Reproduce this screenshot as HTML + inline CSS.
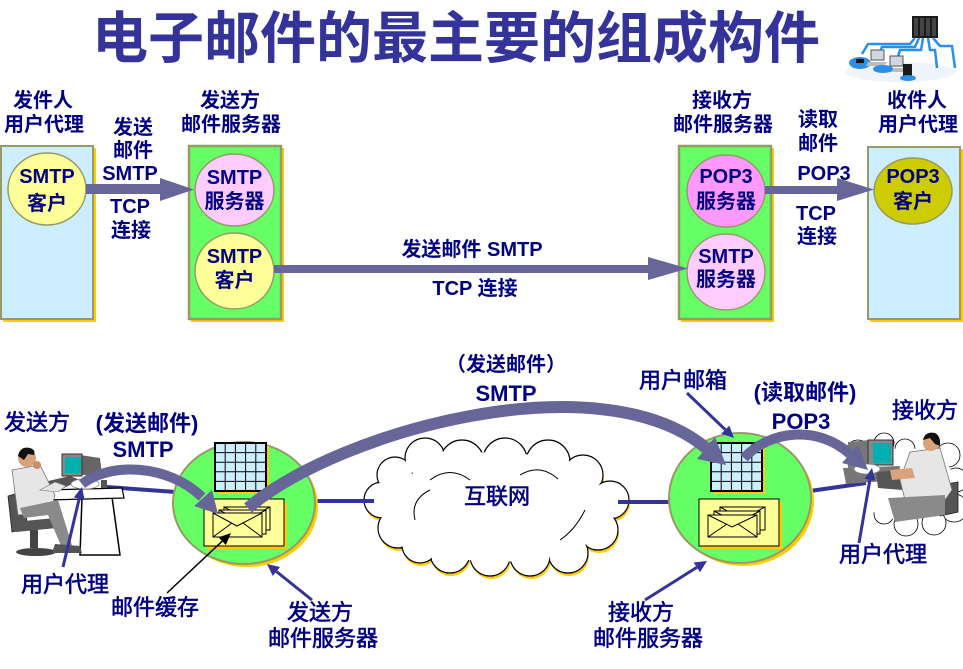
<!DOCTYPE html>
<html><head><meta charset="utf-8">
<style>
html,body{margin:0;padding:0;background:#fff;}
svg{display:block;}
text{font-family:"Liberation Sans","Noto Sans CJK SC",sans-serif;fill:#000080;text-anchor:middle;}
.b{font-weight:bold;}
.l{font-size:20px;font-weight:bold;}
.m{font-size:22px;}
.s{stroke:#000080;stroke-width:0.6px;}
</style></head>
<body>
<svg width="963" height="669" viewBox="0 0 963 669" xmlns="http://www.w3.org/2000/svg">
<!-- Title -->
<text x="456" y="58" font-size="56" font-weight="bold" style="fill:#333399">电子邮件的最主要的组成构件</text>

<!-- top-right network icon -->
<g>
  <ellipse cx="900" cy="72" rx="55" ry="10" fill="#eef4fa"/>
  <rect x="912" y="16" width="26" height="22" fill="#1a1a1a"/>
  <rect x="914" y="18" width="4" height="18" fill="#444"/>
  <rect x="920" y="18" width="4" height="18" fill="#444"/>
  <rect x="926" y="18" width="4" height="18" fill="#444"/>
  <rect x="932" y="18" width="4" height="18" fill="#444"/>
  <g stroke="#2a8fe6" stroke-width="2.5" fill="none">
    <polyline points="915,38 910,44 868,44 862,54"/>
    <polyline points="919,38 915,47 882,47 878,56"/>
    <polyline points="923,38 921,50 900,50 897,60"/>
    <polyline points="928,38 930,50 935,50 937,68"/>
    <polyline points="933,38 940,46 952,46 955,68"/>
  </g>
  <ellipse cx="860" cy="63" rx="11" ry="6" fill="#2a8fe6"/>
  <rect x="856" y="59" width="8" height="4" fill="#111"/>
  <rect x="871" y="50" width="13" height="10" fill="#cfd8e0" stroke="#555" stroke-width="1"/>
  <polygon points="868,62 887,62 884,66 866,66" fill="#bbb"/>
  <rect x="890" y="56" width="13" height="10" fill="#cfd8e0" stroke="#555" stroke-width="1"/>
  <polygon points="887,68 906,68 903,72 885,72" fill="#bbb"/>
  <ellipse cx="883" cy="69" rx="10" ry="4" fill="#2a8fe6"/>
  <rect x="903" y="64" width="9" height="16" fill="#1a1a1a"/>
  <ellipse cx="908" cy="78" rx="8" ry="3" fill="#2a8fe6"/>
</g>

<!-- ================= TOP SECTION ================= -->
<rect x="3" y="148" width="93" height="174" fill="#FFCC00"/>
<rect x="1" y="146" width="92" height="173" fill="#CCEEFF" stroke="#999966" stroke-width="2"/>
<rect x="191" y="148" width="93" height="174" fill="#FFCC00"/>
<rect x="189" y="146" width="92" height="173" fill="#66FF66" stroke="#999966" stroke-width="2.5"/>
<rect x="681" y="148" width="93" height="174" fill="#FFCC00"/>
<rect x="679" y="146" width="92" height="173" fill="#66FF66" stroke="#999966" stroke-width="2.5"/>
<rect x="870" y="149" width="93" height="173" fill="#FFCC00"/>
<rect x="868" y="147" width="92" height="172" fill="#CCEEFF" stroke="#999966" stroke-width="2"/>

<ellipse cx="47" cy="189" rx="39" ry="36" fill="#FFFF99" stroke="#999966" stroke-width="1.5"/>
<ellipse cx="234.5" cy="190" rx="39.5" ry="36" fill="#FFCCFF" stroke="#999966" stroke-width="1.5"/>
<ellipse cx="234.5" cy="271" rx="39.5" ry="38" fill="#FFFF99" stroke="#999966" stroke-width="1.5"/>
<ellipse cx="726" cy="191" rx="39" ry="36" fill="#FF99FF" stroke="#999966" stroke-width="1.5"/>
<ellipse cx="726" cy="272" rx="39" ry="38" fill="#FFCCFF" stroke="#999966" stroke-width="1.5"/>
<ellipse cx="913" cy="191" rx="39" ry="33" fill="#CCCC00" stroke="#999966" stroke-width="1.5"/>

<rect x="86" y="184" width="78" height="10" fill="#666699"/>
<polygon points="160,178 194,189.5 160,201" fill="#666699"/>
<rect x="274" y="265" width="378" height="8" fill="#666699"/>
<polygon points="648,257 688,268.5 648,280" fill="#666699"/>
<rect x="765" y="186" width="76" height="8" fill="#666699"/>
<polygon points="837,178 874,189.5 837,201" fill="#666699"/>

<text class="l" x="43" y="107">发件人</text>
<text class="l" x="44" y="131">用户代理</text>
<text class="l" x="230" y="107">发送方</text>
<text class="l" x="231" y="131">邮件服务器</text>
<text class="l" x="722" y="107">接收方</text>
<text class="l" x="723" y="131">邮件服务器</text>
<text class="l" x="917" y="107">收件人</text>
<text class="l" x="918" y="131">用户代理</text>

<text class="l" x="133" y="134">发送</text>
<text class="l" x="133" y="157">邮件</text>
<text class="l" x="130" y="180">SMTP</text>
<text class="l" x="130" y="213">TCP</text>
<text class="l" x="131" y="237">连接</text>

<text class="l" x="818" y="126">读取</text>
<text class="l" x="818" y="150">邮件</text>
<text class="l" x="824" y="180">POP3</text>
<text class="l" x="816" y="220">TCP</text>
<text class="l" x="817" y="243">连接</text>

<text class="l" x="47" y="183">SMTP</text>
<text class="l" x="47" y="210">客户</text>
<text class="l" x="234.5" y="184">SMTP</text>
<text class="l" x="234.5" y="208">服务器</text>
<text class="l" x="234.5" y="263">SMTP</text>
<text class="l" x="234.5" y="287">客户</text>
<text class="l" x="726" y="183">POP3</text>
<text class="l" x="726" y="208">服务器</text>
<text class="l" x="726" y="263">SMTP</text>
<text class="l" x="726" y="286">服务器</text>
<text class="l" x="913" y="183">POP3</text>
<text class="l" x="913" y="208">客户</text>

<text class="l" x="472" y="256">发送邮件 SMTP</text>
<text class="l" x="475" y="295">TCP 连接</text>

<!-- ================= BOTTOM SECTION ================= -->
<g fill="#FFCC00">
  <circle cx="383" cy="503" r="18"/><circle cx="396" cy="478" r="18"/><circle cx="399" cy="531" r="20"/>
  <circle cx="426" cy="461" r="20"/><circle cx="463" cy="465" r="22"/><circle cx="506" cy="463" r="22"/>
  <circle cx="549" cy="465" r="22"/><circle cx="584" cy="478" r="20"/><circle cx="611" cy="503" r="19"/>
  <circle cx="599" cy="533" r="20"/><circle cx="569" cy="556" r="20"/><circle cx="531" cy="559" r="20"/>
  <circle cx="491" cy="559" r="20"/><circle cx="451" cy="556" r="20"/><circle cx="421" cy="548" r="18"/>
</g>
<g fill="#fff" stroke="#000" stroke-width="1.2">
  <circle cx="382" cy="500" r="18"/><circle cx="395" cy="475" r="18"/><circle cx="398" cy="528" r="20"/>
  <circle cx="425" cy="458" r="20"/><circle cx="462" cy="462" r="22"/><circle cx="505" cy="460" r="22"/>
  <circle cx="548" cy="462" r="22"/><circle cx="583" cy="475" r="20"/><circle cx="610" cy="500" r="19"/>
  <circle cx="598" cy="530" r="20"/><circle cx="568" cy="553" r="20"/><circle cx="530" cy="556" r="20"/>
  <circle cx="490" cy="556" r="20"/><circle cx="450" cy="553" r="20"/><circle cx="420" cy="545" r="18"/>
</g>
<g fill="#fff">
  <circle cx="382" cy="500" r="17"/><circle cx="395" cy="475" r="17"/><circle cx="398" cy="528" r="19"/>
  <circle cx="425" cy="458" r="19"/><circle cx="462" cy="462" r="21"/><circle cx="505" cy="460" r="21"/>
  <circle cx="548" cy="462" r="21"/><circle cx="583" cy="475" r="19"/><circle cx="610" cy="500" r="18"/>
  <circle cx="598" cy="530" r="19"/><circle cx="568" cy="553" r="19"/><circle cx="530" cy="556" r="19"/>
  <circle cx="490" cy="556" r="19"/><circle cx="450" cy="553" r="19"/><circle cx="420" cy="545" r="17"/>
  <ellipse cx="496" cy="507" rx="105" ry="55"/>
</g>
<g fill="none" stroke="#000" stroke-width="1">
  <path d="M430 480 q20 -15 40 0"/><path d="M520 475 q20 -12 38 4"/><path d="M560 540 q15 -10 25 -30"/>
  <path d="M415 520 q-5 -20 15 -30"/>
</g>
<text class="m s" x="497" y="504">互联网</text>

<g fill="#fff" stroke="#000" stroke-width="0.8">
  <circle cx="858" cy="452" r="12"/><circle cx="884" cy="443" r="10"/><circle cx="905" cy="449" r="10"/>
  <circle cx="948" cy="455" r="12"/><circle cx="956" cy="480" r="12"/><circle cx="954" cy="508" r="14"/>
  <circle cx="934" cy="523" r="12"/><circle cx="906" cy="524" r="12"/><circle cx="884" cy="514" r="10"/>
</g>
<ellipse cx="905" cy="484" rx="50" ry="36" fill="#fff"/>

<g stroke="#333399" stroke-width="4">
  <line x1="107" y1="487" x2="176" y2="492"/>
  <line x1="314" y1="501" x2="374" y2="501"/>
  <line x1="618" y1="502" x2="671" y2="502"/>
  <line x1="810" y1="491" x2="866" y2="483"/>
</g>

<ellipse cx="247" cy="506" rx="71" ry="61" fill="#FFCC00"/>
<ellipse cx="244" cy="503" rx="71" ry="61" fill="#66FF66" stroke="#999966" stroke-width="2"/>
<ellipse cx="743" cy="501" rx="71" ry="65" fill="#FFCC00"/>
<ellipse cx="740" cy="498" rx="71" ry="65" fill="#66FF66" stroke="#999966" stroke-width="2"/>

<rect x="218" y="446" width="51" height="48" fill="#FFCC00"/>
<rect x="215" y="443" width="51" height="48" fill="#CCEEFF" stroke="#000" stroke-width="2"/>
<g stroke="#000" stroke-width="1">
  <line x1="225.2" y1="443" x2="225.2" y2="491"/><line x1="235.4" y1="443" x2="235.4" y2="491"/>
  <line x1="245.6" y1="443" x2="245.6" y2="491"/><line x1="255.8" y1="443" x2="255.8" y2="491"/>
  <line x1="215" y1="452.6" x2="266" y2="452.6"/><line x1="215" y1="462.2" x2="266" y2="462.2"/>
  <line x1="215" y1="471.8" x2="266" y2="471.8"/><line x1="215" y1="481.4" x2="266" y2="481.4"/>
</g>
<rect x="714" y="446" width="51" height="48" fill="#FFCC00"/>
<rect x="711" y="443" width="51" height="48" fill="#CCEEFF" stroke="#000" stroke-width="2"/>
<g stroke="#000" stroke-width="1">
  <line x1="721.2" y1="443" x2="721.2" y2="491"/><line x1="731.4" y1="443" x2="731.4" y2="491"/>
  <line x1="741.6" y1="443" x2="741.6" y2="491"/><line x1="751.8" y1="443" x2="751.8" y2="491"/>
  <line x1="711" y1="452.6" x2="762" y2="452.6"/><line x1="711" y1="462.2" x2="762" y2="462.2"/>
  <line x1="711" y1="471.8" x2="762" y2="471.8"/><line x1="711" y1="481.4" x2="762" y2="481.4"/>
</g>

<rect x="207" y="502" width="80" height="47" fill="#FFCC00"/>
<rect x="204" y="499" width="80" height="47" fill="#FFFF99" stroke="#000" stroke-width="1"/>
<g fill="#FFFF99" stroke="#000" stroke-width="1">
  <rect x="224" y="507" width="46" height="23"/><path d="M224 507 L247 519 L270 507" fill="none"/>
  <rect x="219" y="510" width="47" height="24"/><path d="M219 510 L242 522 L266 510" fill="none"/>
  <rect x="213" y="513" width="49" height="24"/><path d="M213 513 L237 526 L262 513 M213 537 L232 523 M262 537 L243 523" fill="none"/>
</g>
<rect x="702" y="502" width="80" height="47" fill="#FFCC00"/>
<rect x="699" y="499" width="80" height="47" fill="#FFFF99" stroke="#000" stroke-width="1"/>
<g fill="#FFFF99" stroke="#000" stroke-width="1">
  <rect x="720" y="507" width="45" height="23"/><path d="M720 507 L742 519 L765 507" fill="none"/>
  <rect x="714" y="511" width="46" height="23"/><path d="M714 511 L737 523 L760 511" fill="none"/>
  <rect x="708" y="515" width="49" height="22"/><path d="M708 515 L732 527 L757 515 M708 537 L727 524 M757 537 L738 524" fill="none"/>
</g>

<!-- left person & desk -->
<g>
  <polygon points="82,497 112,497 120,555 80,555" fill="#fff" stroke="#000" stroke-width="1.5"/>
  <polygon points="45,490 122,488 124,498 48,500" fill="#fff" stroke="#000" stroke-width="1.2"/>
  <polygon points="80,455 100,458 102,475 80,475" fill="#666"/>
  <rect x="62" y="454" width="20" height="22" fill="#888" stroke="#333" stroke-width="1"/>
  <rect x="65" y="457" width="16" height="16" fill="#00B0B0"/>
  <polygon points="44,482 70,476 80,480 56,492" fill="#555"/>
  <ellipse cx="85" cy="484" rx="14" ry="5" fill="#fff" stroke="#888" stroke-width="0.8"/>
  <rect x="101" y="480" width="6" height="8" fill="#555"/>
  <polygon points="8,496 22,492 28,528 12,532" fill="#555" stroke="#222" stroke-width="0.8"/>
  <polygon points="14,522 55,518 57,528 16,532" fill="#555"/>
  <rect x="30" y="530" width="8" height="18" fill="#444"/>
  <ellipse cx="36" cy="552" rx="20" ry="4" fill="#444"/>
  <polygon points="12,470 40,465 55,495 50,512 18,515" fill="#e6e6e6" stroke="#777" stroke-width="0.8"/>
  <polygon points="20,508 58,500 72,545 62,548 48,515 24,518" fill="#8a8a8a"/>
  <polygon points="55,544 80,546 82,553 52,553" fill="#555"/>
  <polygon points="40,490 55,482 66,486 58,492" fill="#e6e6e6" stroke="#777" stroke-width="0.6"/>
  <circle cx="27" cy="458" r="9" fill="#d9a27a"/>
  <path d="M18 456 Q20 446 30 448 Q36 450 34 455 L28 454 L24 460 Z" fill="#111"/>
  <circle cx="37" cy="465" r="4" fill="#c8906a"/>
</g>

<!-- right person & desk -->
<g>
  <polygon points="848,442 870,440 870,468 848,470" fill="#777"/>
  <rect x="868" y="440" width="25" height="25" fill="#888" stroke="#333" stroke-width="1"/>
  <rect x="873" y="443" width="18" height="20" fill="#00B0B0"/>
  <polygon points="843,468 900,466 898,480 846,484" fill="#777"/>
  <polygon points="876,472 905,470 903,490 878,488" fill="#555"/>
  <ellipse cx="867" cy="469" rx="13" ry="5" fill="#fff" stroke="#888" stroke-width="0.8"/>
  <polygon points="936,486 958,482 958,512 940,516" fill="#555" stroke="#222" stroke-width="0.8"/>
  <polygon points="910,452 940,448 952,490 945,500 905,500 900,480" fill="#e6e6e6" stroke="#777" stroke-width="0.8"/>
  <polygon points="888,498 945,495 945,515 895,522" fill="#8a8a8a"/>
  <polygon points="890,470 912,468 915,478 892,480" fill="#d9a27a"/>
  <circle cx="931" cy="443" r="8" fill="#d9a27a"/>
  <path d="M923 440 Q925 431 935 433 Q941 436 940 446 L935 444 L930 438 Z" fill="#111"/>
</g>

<path d="M248 508 C340 430, 600 360, 706 448" fill="none" stroke="#666699" stroke-width="12"/>
<polygon points="697,459 726,465 715,437" fill="#666699"/>
<path d="M82 484 C110 462, 168 464, 202 497" fill="none" stroke="#666699" stroke-width="10"/>
<polygon points="194,506 218,514 212,490" fill="#666699"/>
<path d="M744 458 C770 430, 818 425, 850 454" fill="none" stroke="#666699" stroke-width="10"/>
<polygon points="842,463 868,470 858,445" fill="#666699"/>

<g stroke="#333399" stroke-width="3" fill="none">
  <line x1="63" y1="567" x2="79.2" y2="498.7"/>
  <line x1="859" y1="543" x2="869.9" y2="479.8"/>
  <line x1="312" y1="600" x2="276.4" y2="571.5"/>
  <line x1="645" y1="600" x2="696.8" y2="567.4"/>
  <line x1="687" y1="393" x2="725.3" y2="429.7"/>
</g>
<g fill="#333399">
  <polygon points="82,487 84.6,500 73.8,497.4"/>
  <polygon points="872,468 875.3,480.8 864.5,478.8"/>
  <polygon points="267,564 280,567 272.8,576"/>
  <polygon points="707,561 700,572.3 693.6,562.5"/>
  <polygon points="734,438 721.3,433.8 729.3,425.6"/>
</g>
<line x1="167" y1="593" x2="222.2" y2="541.2" stroke="#000" stroke-width="1.5"/>
<polygon points="231,533 225.8,545 218.6,537.4" fill="#000"/>

<text class="m s" x="37" y="430">发送方</text>
<text class="m b" x="147" y="431">(发送邮件)</text>
<text class="m b" x="143" y="457">SMTP</text>
<text class="m s" x="65" y="592">用户代理</text>
<text class="m s" x="155" y="615">邮件缓存</text>
<text class="m s" x="320" y="620">发送方</text>
<text class="m s" x="323" y="646">邮件服务器</text>
<text class="b" x="506" y="371" font-size="20">（发送邮件）</text>
<text class="m b" x="506" y="401">SMTP</text>
<text class="m s" x="683" y="388">用户邮箱</text>
<text class="m b" x="805" y="400">(读取邮件)</text>
<text class="m b" x="801" y="429">POP3</text>
<text class="m s" x="925" y="418">接收方</text>
<text class="m s" x="883" y="562">用户代理</text>
<text class="m s" x="641" y="620">接收方</text>
<text class="m s" x="648" y="646">邮件服务器</text>
</svg>
</body></html>
